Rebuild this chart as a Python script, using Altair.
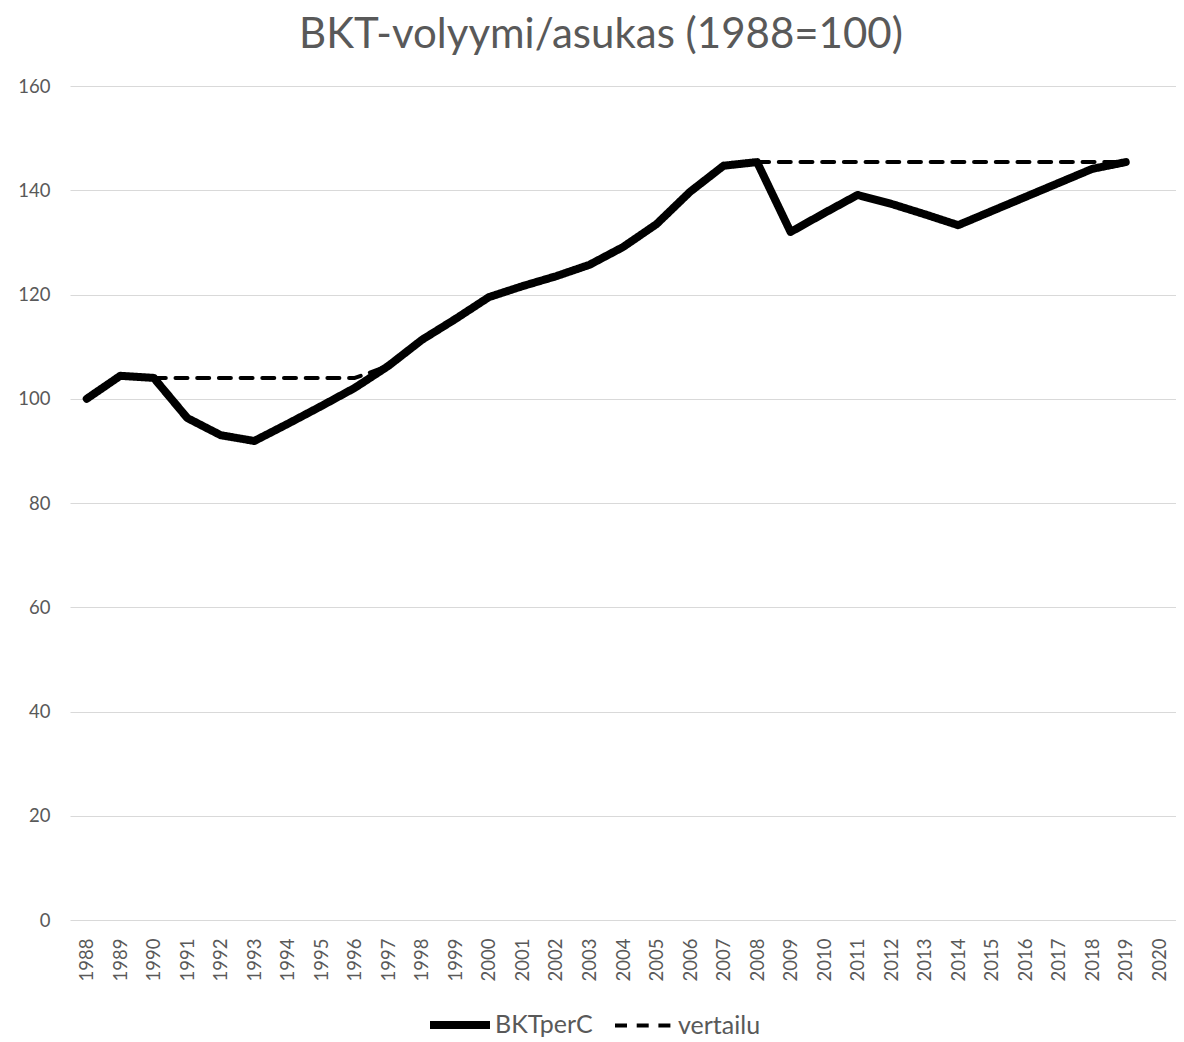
import altair as alt
import pandas as pd

years = list(range(1988, 2020))
bkt = [100.0, 104.4, 104.0, 96.3, 93.0, 91.9, 95.2, 98.6, 102.1, 106.3,
       111.3, 115.3, 119.5, 121.6, 123.5, 125.7, 129.1, 133.5, 139.7, 144.7,
       145.4, 132.0, 135.6, 139.1, 137.4, 135.4, 133.3, 136.0, 138.7, 141.4,
       144.1, 145.4]
vert_years_a = [1990, 1991, 1992, 1993, 1994, 1995, 1996, 1997]
vert_vals_a = [104.0, 104.0, 104.0, 104.0, 104.0, 104.0, 104.0, 106.3]
vert_years_b = list(range(2008, 2020))
vert_vals_b = [145.4] * 12
axis_years = list(range(1988, 2021))

rows = []
for y, v in zip(years, bkt):
    rows.append({"year": y, "value": v, "series": "BKTperC", "seg": "a"})
for y, v in zip(vert_years_a, vert_vals_a):
    rows.append({"year": y, "value": v, "series": "vertailu", "seg": "b"})
for y, v in zip(vert_years_b, vert_vals_b):
    rows.append({"year": y, "value": v, "series": "vertailu", "seg": "c"})
df = pd.DataFrame(rows)

FONT = "Lato"
GRAY = "#595959"

chart = alt.Chart(df).mark_line(strokeCap="round", strokeJoin="round").encode(
    x=alt.X("year:O", scale=alt.Scale(type="point", domain=axis_years, padding=0.5),
            axis=alt.Axis(title=None, labelAngle=270, labelFontSize=18.5, labelColor=GRAY,
                          labelFont=FONT, ticks=False, domain=False, labelPadding=18,
                          labelBaseline="middle", labelAlign="right")),
    y=alt.Y("value:Q", scale=alt.Scale(domain=[0, 160], nice=False),
            axis=alt.Axis(title=None, values=list(range(0, 161, 20)), labelFontSize=18.5,
                          labelColor=GRAY, labelFont=FONT, ticks=False, domain=False,
                          gridColor="#d9d9d9", gridWidth=1, labelPadding=20)),
    color=alt.Color("series:N", scale=alt.Scale(domain=["BKTperC", "vertailu"], range=["#000000", "#000000"]),
                    legend=alt.Legend(title=None)),
    strokeDash=alt.StrokeDash("series:N", scale=alt.Scale(domain=["BKTperC", "vertailu"], range=[[1, 0], [12, 9.7]]),
                              legend=alt.Legend(title=None)),
    strokeWidth=alt.StrokeWidth("series:N", scale=alt.Scale(domain=["BKTperC", "vertailu"], range=[8, 4]),
                                legend=alt.Legend(title=None)),
    detail="seg:N",
).properties(
    width=1106, height=834,
    title=alt.Title("BKT-volyymi/asukas (1988=100)", fontSize=42, font=FONT, color=GRAY,
                    fontWeight="normal", offset=20, anchor="middle", dx=-22),
    autosize=alt.AutoSizeParams(type="none"),
    padding={"left": 62, "top": 78, "right": 0, "bottom": 130},
).configure_view(stroke=None).configure_legend(
    orient="none", legendX=356, legendY=905, direction="horizontal",
    symbolType="stroke", symbolSize=3600, labelFontSize=25, labelColor=GRAY, labelFont=FONT,
    columnPadding=14, labelOffset=1,
)

chart.save("out.html", embed_options={"renderer": "svg", "actions": False})
